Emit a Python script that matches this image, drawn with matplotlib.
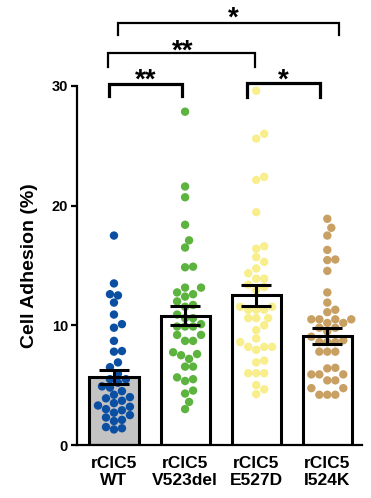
import matplotlib
matplotlib.use("Agg")
import matplotlib.pyplot as plt
import numpy as np

plt.rcParams['font.family'] = ['Liberation Sans', 'DejaVu Sans']
plt.rcParams['font.weight'] = 'bold'

groups = ["rClC5\nWT", "rClC5\nV523del", "rClC5\nE527D", "rClC5\nI524K"]
means = [5.7, 10.8, 12.5, 9.1]
sems = [0.6, 0.8, 0.9, 0.65]
colors = ["#0b4fa3", "#5cb33e", "#f8ee8c", "#c9a063"]
fills = ["#c3c3c3", "white", "white", "white"]

wt = [17.5, 13.5, 12.6, 12.5, 11.9, 10.9, 10.1, 9.8, 8.7, 7.85, 7.8, 6.9, 6.5,
      5.95, 5.5, 5.5, 5.2, 4.9, 4.8, 4.5, 4.2, 4.0, 3.9, 3.7, 3.5, 3.3, 3.2,
      3.0, 2.9, 2.7, 2.5, 2.3, 2.1, 2.0, 1.5, 1.4, 1.3]
v523del = [27.85, 21.6, 20.7, 18.4, 17.1, 16.5, 14.85, 14.9, 13.15, 13.15,
           12.6, 12.4, 12.75, 12.0, 11.55, 11.7, 10.6, 10.6, 10.9, 10.1, 9.9,
           9.9, 9.9, 9.2, 9.2, 8.7, 8.7, 7.75, 7.5, 7.2, 7.6, 6.55, 6.55, 5.5,
           5.65, 5.35, 4.55, 4.3, 3.6, 3.0]
e527d = [29.6, 25.6, 26.0, 22.4, 22.15, 19.45, 16.4, 16.6, 15.7, 15.3, 14.75,
         14.35, 13.9, 13.9, 13.4, 13.2, 12.95, 11.55, 11.3, 11.3, 11.3, 11.55,
         10.6, 10.6, 10.6, 10.0, 9.6, 8.9, 8.6, 8.2, 7.95, 8.2, 8.2, 6.9, 7.05,
         6.0, 6.0, 6.0, 5.0, 4.65, 4.25]
i524k = [18.9, 18.15, 17.5, 16.3, 15.45, 15.5, 14.55, 12.75, 11.9, 11.1, 11.3,
         10.5, 10.5, 10.5, 10.5, 10.2, 10.2, 9.8, 9.8, 9.5, 9.05, 8.6, 8.6, 8.6,
         8.75, 7.8, 7.8, 7.8, 6.4, 6.45, 5.9, 5.9, 5.9, 5.4, 5.4, 4.75, 4.75,
         4.2, 4.2, 4.2]
points = [wt, v523del, e527d, i524k]

# significance brackets: (x1, x2, y_top, y_leg, star_x, star_y, text, lw)
brackets = [
    (-0.07, 0.96, 30.17, 29.16, 0.44, 29.83, "**", 2.3),
    (-0.085, 1.99, 32.78, 31.59, 0.97, 32.26, "**", 1.6),
    (1.87, 2.90, 30.25, 29.08, 2.38, 29.83, "*", 2.3),
    (0.056, 3.17, 35.29, 34.26, 1.68, 35.01, "*", 1.6),
]

fig = plt.figure(figsize=(3.71, 4.98), dpi=100)
ax = fig.add_axes([0.2075, 0.1064, 0.7687, 0.721])
ax.set_xlim(-0.52, 3.49)
ax.set_ylim(0, 30)

# pixels per data unit, used to lay out the swarm
ppu_x = 0.7687 * 371 / (3.49 + 0.52)
ppu_y = 0.721 * 498 / 30.0
diam = 8.4


def swarm(vals):
    order = np.argsort(vals)
    placed = []
    offs = np.zeros(len(vals))
    d = diam * 0.95
    cands = [0.0]
    for k in range(1, 30):
        cands += [k * d / 2, -k * d / 2]
    for i in order:
        y = vals[i] * ppu_y
        for c in cands:
            if all((c - px) ** 2 + (y - py) ** 2 >= d ** 2 for px, py in placed):
                break
        placed.append((c, y))
        offs[i] = c / ppu_x
    return offs


x = np.arange(len(groups))
bw = 0.69
ax.bar(x, means, width=bw, color=fills, edgecolor="none", zorder=1)
for i, vals in enumerate(points):
    vals = np.array(vals)
    ax.scatter(x[i] + swarm(vals), vals, s=(diam * 0.72) ** 2, color=colors[i],
               edgecolors="none", zorder=2)
ax.bar(x, means, width=bw, color="none", edgecolor="black", linewidth=2.2, zorder=3)
ax.errorbar(x, means, yerr=sems, fmt="none", ecolor="black", elinewidth=2.2,
            capsize=11, capthick=2.2, zorder=4)

for x1, x2, yt, yl, sx, sy, txt, lw in brackets:
    ax.plot([x1, x1, x2, x2], [yl, yt, yt, yl], color="black", lw=lw,
            clip_on=False, solid_joinstyle="miter")
    ax.text(sx, sy, txt, ha="center", va="baseline", fontsize=20,
            fontweight="bold", clip_on=False)

ax.spines["top"].set_visible(False)
ax.spines["right"].set_visible(False)
ax.spines["left"].set_linewidth(1.6)
ax.spines["bottom"].set_linewidth(1.6)
ax.set_yticks([0, 10, 20, 30])
ax.tick_params(axis="y", length=4.5, width=1.6, labelsize=10.5, pad=2)
ax.tick_params(axis="x", length=0, labelsize=12.5, pad=8)
ax.set_xticks(x)
ax.set_xticklabels(groups, fontweight="bold", linespacing=1.15)
ax.set_ylabel("Cell Adhesion (%)", fontsize=14, fontweight="bold", labelpad=10)

fig.savefig("out.png", dpi=100)
